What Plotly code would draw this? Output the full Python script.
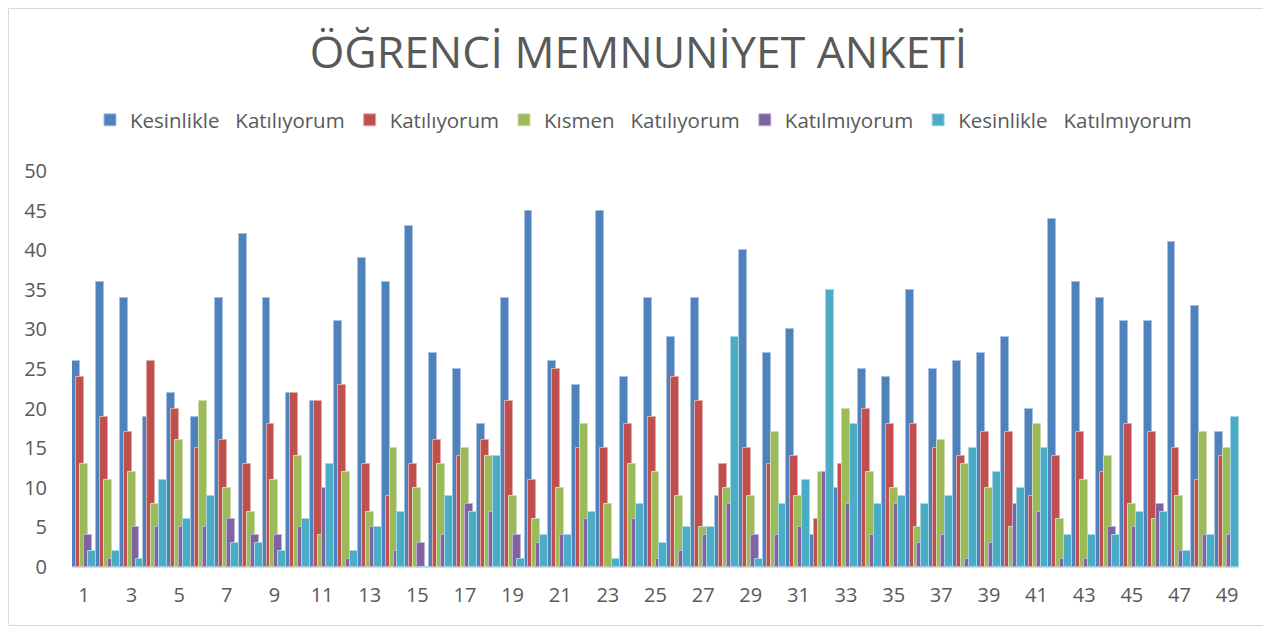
import plotly.graph_objects as go

categories = list(range(1, 50))
tick_labels = [str(i) for i in range(1, 50, 2)]

series_names = [
    "Kesinlikle\u00a0\u00a0\u00a0Katılıyorum",
    "Katılıyorum",
    "Kısmen\u00a0\u00a0\u00a0Katılıyorum",
    "Katılmıyorum",
    "Kesinlikle\u00a0\u00a0\u00a0Katılmıyorum",
]

kesinlikle_katiliyorum = [26, 36, 34, 19, 22, 19, 34, 42, 34, 22, 21, 31, 39, 36, 43, 27, 25, 18, 34, 45,
                          26, 23, 45, 24, 34, 29, 34, 9, 40, 27, 30, 4, 10, 25, 24, 35, 25, 26, 27, 29,
                          20, 44, 36, 34, 31, 31, 41, 33, 17]
katiliyorum = [24, 19, 17, 26, 20, 15, 16, 13, 18, 22, 21, 23, 13, 9, 13, 16, 14, 16, 21, 11,
               25, 15, 15, 18, 19, 24, 21, 13, 15, 13, 14, 6, 13, 20, 18, 18, 15, 14, 17, 17,
               9, 14, 17, 12, 18, 17, 15, 11, 14]
kismen_katiliyorum = [13, 11, 12, 8, 16, 21, 10, 7, 11, 14, 4, 12, 7, 15, 10, 13, 15, 14, 9, 6,
                      10, 18, 8, 13, 12, 9, 5, 10, 9, 17, 9, 12, 20, 12, 10, 5, 16, 13, 10, 5,
                      18, 6, 11, 14, 8, 6, 9, 17, 15]
katilmiyorum = [4, 1, 5, 5, 5, 5, 6, 4, 4, 5, 10, 1, 5, 2, 3, 4, 8, 7, 4, 3,
                4, 6, 0, 6, 1, 2, 4, 8, 4, 4, 5, 12, 8, 4, 8, 3, 4, 1, 3, 8,
                7, 1, 1, 5, 5, 8, 2, 4, 4]
kesinlikle_katilmiyorum = [2, 2, 1, 11, 6, 9, 3, 3, 2, 6, 13, 2, 5, 7, 0, 9, 7, 14, 1, 4,
                           4, 7, 1, 8, 3, 5, 5, 29, 1, 8, 11, 35, 18, 8, 9, 8, 9, 15, 12, 10,
                           15, 4, 4, 4, 7, 7, 2, 4, 19]

series_values = [kesinlikle_katiliyorum, katiliyorum, kismen_katiliyorum,
                 katilmiyorum, kesinlikle_katilmiyorum]
colors = ["#4F81BD", "#C0504D", "#9BBB59", "#8064A2", "#4BACC6"]
edge_colors = ["#a7c0de", "#e0a8a6", "#cddcac", "#bfb1d0", "#a5d5e2"]

bar_w = 1 / 3
step = 1 / 6

fig = go.Figure()
for i, (name, vals) in enumerate(zip(series_names, series_values)):
    fig.add_trace(go.Bar(
        x=categories, y=vals, name=name,
        offset=-0.5 + i * step, width=bar_w,
        marker=dict(color=colors[i], line=dict(color=edge_colors[i], width=1)),
    ))

# page body has an 8px margin, so positions below are relative to the div
W, H = 1271, 628
ml, mr, mt, mb = 64, 40, 163, 69
pw, ph = W - ml - mr, H - mt - mb

fig.update_layout(
    width=W, height=H,
    margin=dict(l=ml, r=mr, t=mt, b=mb),
    barmode="overlay",
    paper_bgcolor="white", plot_bgcolor="white",
    font=dict(family="Open Sans", color="#595959"),
    title=dict(text="ÖĞRENCİ MEMNUNİYET ANKETİ", x=0.5 * 1261 / W, xanchor="center",
               xref="container", yref="container", y=1 - 44 / H, yanchor="middle",
               font=dict(size=44.5, color="#595959", family="Open Sans")),
    legend=dict(orientation="h", x=(96 + 1191) / 2 / W - 8 / W, xanchor="center", xref="container",
                yref="container", y=1 - 112 / H, yanchor="middle",
                font=dict(size=20.5, color="#595959"), itemwidth=30,
                traceorder="normal"),
    xaxis=dict(range=[0.5, 49.5], tickmode="array",
               tickvals=list(range(1, 50, 2)), ticktext=tick_labels,
               showgrid=False, showline=True, linecolor="#d9d9d9", linewidth=1,
               ticks="", tickfont=dict(size=20, color="#595959"),
               ticklabelstandoff=10, zeroline=False),
    yaxis=dict(range=[0, 50], tickmode="linear", tick0=0, dtick=5,
               showgrid=False, showline=False, ticks="", zeroline=False,
               tickfont=dict(size=20, color="#595959"), ticklabelstandoff=24),
    bargap=0,
    shapes=[dict(type="rect", xref="paper", yref="paper",
                 x0=(0.5 - ml) / pw, x1=(1260.5 - ml) / pw,
                 y0=-(617.5 - (H - mb)) / ph,
                 y1=(H - mb - 0.5) / ph,
                 line=dict(color="#d9d9d9", width=1), layer="below")],
)

fig.write_html("out.html")
